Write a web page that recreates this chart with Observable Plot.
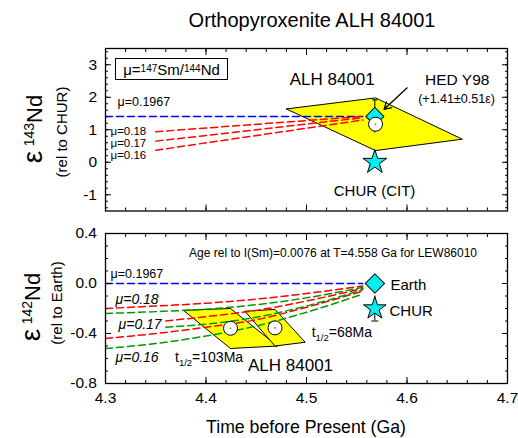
<!DOCTYPE html>
<html>
<head>
<meta charset="utf-8">
<script src="https://cdn.jsdelivr.net/npm/d3@7"></script>
<script src="https://cdn.jsdelivr.net/npm/@observablehq/plot@0.6"></script>
<style>
html,body{margin:0;padding:0;background:#fff;}
#chart{position:relative;width:518px;height:438px;overflow:hidden;font-family:"Liberation Sans",Arial,sans-serif;color:#000;}
#chart svg{position:absolute;left:0;overflow:visible;}
.t{position:absolute;white-space:nowrap;line-height:1;}
.c{transform:translate(-50%,-50%);}
.rot{transform:translate(-50%,-50%) rotate(-90deg);}
sup,sub{line-height:0;}
</style>
</head>
<body>
<div id="chart"></div>
<script>
// ---------------- data ----------------
const timeTicks = [4.3, 4.4, 4.5, 4.6, 4.7];
const nd143Ticks = [-1, 0, 1, 2, 3];
const nd142Ticks = [-0.8, -0.4, 0.0, 0.4];
const muLabels = ["μ=0.1967", "μ=0.18", "μ=0.17", "μ=0.16"];

// Top panel: ε143Nd evolution lines
const t143Earth = [4.30, 4.556];
const e143Earth = [1.41, 1.41];
const t143Mu = [4.35, 4.556];
const e143Mu018 = [0.94, 1.41];
const e143Mu017 = [0.65, 1.37];
const e143Mu016 = [0.37, 1.30];
// ALH 84001 error parallelogram (ε143Nd)
const alhT143 = [4.480, 4.5687, 4.655, 4.5687];
const alhE143 = [1.64, 1.98, 0.71, 0.36];
const alhPoint143 = {t: 4.5687, e: 1.17};
const hed = {t: 4.568, e: 1.41, err: 0.51};
const chur143 = {t: 4.568, e: 0};

// Bottom panel: ε142Nd evolution lines
const t142Earth = [4.30, 4.556];
const e142Earth = [0, 0];
const t142 = [4.30, 4.35, 4.40, 4.45, 4.50, 4.556];
const t142Mu017 = [4.36, 4.40, 4.45, 4.50, 4.556];
const e142Red018 = [-0.20, -0.18, -0.158, -0.125, -0.08, -0.02];
const e142Red017 = [-0.30, -0.265, -0.215, -0.14, -0.04];
const e142Red016 = [-0.44, -0.40, -0.35, -0.29, -0.19, -0.06];
const e142Grn018 = [-0.24, -0.225, -0.205, -0.17, -0.115, -0.03];
const e142Grn017 = [-0.35, -0.325, -0.27, -0.18, -0.05];
const e142Grn016 = [-0.52, -0.48, -0.42, -0.34, -0.23, -0.085];
// ALH 84001 parallelograms (ε142Nd), t1/2 = 103 Ma and 68 Ma
const alhT142a = [4.3776, 4.4244, 4.4712, 4.4244];
const alhE142a = [-0.215, -0.200, -0.500, -0.520];
const alhT142b = [4.4387, 4.4687, 4.4987, 4.4687];
const alhE142b = [-0.222, -0.207, -0.470, -0.500];
const alhPoints142 = [{t: 4.4244, e: -0.358}, {t: 4.4687, e: -0.355}];
const earth142 = {t: 4.568, e: 0};
const chur142 = {t: 4.568, e: -0.20, lo: -0.30, hi: -0.10};

// ---------------- helpers ----------------
const FONT = '"Liberation Sans", Arial, sans-serif';
const YELLOW = "#ffff00", CYAN = "#00f0f0", RED = "#ff0000", GREEN = "#009a00", BLUE = "#0000ff";
const DASH = "7,4";
const rows = (ts, es, key) => ts.map((t, i) => ({t, e: es[i], key}));
const closed = (ts, es) => rows([...ts, ts[0]], [...es, es[0]]);
const blank = () => "";
const capSymbol = {draw(ctx, size) { const w = Math.sqrt(size); ctx.moveTo(-w / 2, 0); ctx.lineTo(w / 2, 0); }};
const timeMinor = d3.range(215, 236).map(i => i / 50);
const nd143Minor = d3.range(-7, 18).map(i => i / 5);
const nd142Minor = d3.range(-8, 5).map(i => i / 10);

function axes(yMajor, yMinor, yFmt, xLabels) {
  return [
    Plot.axisX(timeMinor, {anchor: "bottom", tickSize: -3, tickFormat: blank, label: null}),
    Plot.axisX(timeMinor, {anchor: "top", tickSize: -3, tickFormat: blank, label: null}),
    Plot.axisX(timeTicks, {anchor: "top", tickSize: -6, tickFormat: blank, label: null}),
    Plot.axisX(timeTicks, {anchor: "bottom", tickSize: -6, tickPadding: 14.5, tickFormat: xLabels ? (d => d.toFixed(1)) : blank, label: null, fontSize: 15.5}),
    Plot.axisY(yMinor, {anchor: "left", tickSize: -3, tickFormat: blank, label: null}),
    Plot.axisY(yMinor, {anchor: "right", tickSize: -3, tickFormat: blank, label: null}),
    Plot.axisY(yMajor, {anchor: "left", tickSize: -6, tickPadding: 14.5, tickFormat: yFmt, label: null, fontSize: 15.5}),
    Plot.axisY(yMajor, {anchor: "right", tickSize: -6, tickFormat: blank, label: null}),
    Plot.frame({stroke: "#000", strokeWidth: 1.3})
  ];
}
const style = {fontFamily: FONT, fontSize: "15.5px", fontWeight: "normal", color: "#000", background: "transparent", overflow: "visible"};

// ---------------- top panel ----------------
const topPlot = Plot.plot({
  width: 518, height: 180, marginTop: 8, marginBottom: 9.5, marginLeft: 105, marginRight: 11,
  style,
  x: {domain: [4.3, 4.7]},
  y: {domain: [-1.5, 3.5]},
  marks: [
    Plot.line(closed(alhT143, alhE143), {x: "t", y: "e", fill: YELLOW, stroke: "#000", strokeWidth: 1}),
    Plot.ruleX([hed], {x: "t", y1: d => d.e - d.err, y2: d => d.e + d.err, stroke: "#000", strokeWidth: 1}),
    Plot.dot([hed], {x: "t", y: d => d.e + d.err, symbol: capSymbol, r: 3, stroke: "#000", strokeWidth: 1}),
    Plot.line(rows(t143Earth, e143Earth), {x: "t", y: "e", stroke: BLUE, strokeWidth: 1.5, strokeDasharray: DASH}),
    Plot.line([...rows(t143Mu, e143Mu018, "a"), ...rows(t143Mu, e143Mu017, "b"), ...rows(t143Mu, e143Mu016, "c")],
      {x: "t", y: "e", z: "key", stroke: RED, strokeWidth: 1.5, strokeDasharray: DASH}),
    Plot.dot([hed], {x: "t", y: "e", symbol: "square", rotate: 45, r: 7.2, fill: CYAN, stroke: "#000", strokeWidth: 1}),
    Plot.dot([alhPoint143], {x: "t", y: "e", r: 7, fill: "#fff", stroke: "#000", strokeWidth: 1}),
    Plot.dot([alhPoint143], {x: "t", y: "e", r: 0.8, fill: "#555"}),
    Plot.dot([chur143], {x: "t", y: "e", symbol: "star", r: 7.5, fill: CYAN, stroke: "#000", strokeWidth: 1}),
    Plot.arrow([{x1: 4.6002, y1: 2.29, x2: 4.5772, y2: 1.63}], {x1: "x1", y1: "y1", x2: "x2", y2: "y2", stroke: "#000", strokeWidth: 1.3, headLength: 9}),
    Plot.text(["ALH 84001"], {x: 4.5256, y: 2.545, text: d => d, fontSize: 17, fontWeight: "normal"}),
    Plot.text(["HED Y98"], {x: 4.650, y: 2.545, text: d => d, fontSize: 15.5, fontWeight: "normal"}),
    Plot.text(["(+1.41±0.51ε)"], {x: 4.6493, y: 1.96, text: d => d, fontSize: 12.5, fontWeight: "normal"}),
    Plot.text(["CHUR (CIT)"], {x: 4.5677, y: -0.89, text: d => d, fontSize: 15, fontWeight: "normal"}),
    Plot.text([muLabels[0]], {x: 4.3119, y: 1.84, text: d => d, textAnchor: "start", fontSize: 12.5}),
    Plot.text(muLabels.slice(1), {x: 4.305, y: (d, i) => [0.955, 0.585, 0.215][i], text: d => d, textAnchor: "start", fontSize: 11.5}),
    ...axes(nd143Ticks, nd143Minor, d => String(d), false)
  ]
});

// ---------------- bottom panel ----------------
const botPlot = Plot.plot({
  width: 518, height: 195, marginTop: 13, marginBottom: 32, marginLeft: 105, marginRight: 11,
  style,
  x: {domain: [4.3, 4.7]},
  y: {domain: [-0.8, 0.4]},
  marks: [
    Plot.line(closed(alhT142a, alhE142a), {x: "t", y: "e", fill: YELLOW, stroke: "#000", strokeWidth: 1}),
    Plot.line(closed(alhT142b, alhE142b), {x: "t", y: "e", fill: YELLOW, stroke: "#000", strokeWidth: 1}),
    Plot.line(rows(t142Earth, e142Earth), {x: "t", y: "e", stroke: BLUE, strokeWidth: 1.5, strokeDasharray: DASH}),
    Plot.line([...rows(t142, e142Red018, "a"), ...rows(t142Mu017, e142Red017, "b"), ...rows(t142, e142Red016, "c")],
      {x: "t", y: "e", z: "key", stroke: RED, strokeWidth: 1.5, strokeDasharray: DASH, curve: "monotone-x"}),
    Plot.line([...rows(t142, e142Grn018, "a"), ...rows(t142Mu017, e142Grn017, "b"), ...rows(t142, e142Grn016, "c")],
      {x: "t", y: "e", z: "key", stroke: GREEN, strokeWidth: 1.5, strokeDasharray: DASH, curve: "monotone-x"}),
    Plot.dot(alhPoints142, {x: "t", y: "e", r: 7, fill: "#fff", stroke: "#000", strokeWidth: 1}),
    Plot.dot(alhPoints142, {x: "t", y: "e", r: 0.8, fill: "#555"}),
    Plot.ruleX([chur142], {x: "t", y1: "lo", y2: "hi", stroke: "#000", strokeWidth: 1}),
    Plot.dot([chur142], {x: "t", y: "lo", symbol: capSymbol, r: 4, stroke: "#000", strokeWidth: 1}),
    Plot.dot([earth142], {x: "t", y: "e", symbol: "square", rotate: 45, r: 7.7, fill: CYAN, stroke: "#000", strokeWidth: 1}),
    Plot.dot([chur142], {x: "t", y: "e", symbol: "star", r: 7.1, fill: CYAN, stroke: "#000", strokeWidth: 1}),
    Plot.text(["Age rel to I(Sm)=0.0076 at T=4.558 Ga for LEW86010"], {x: 4.5264, y: 0.242, text: d => d, fontSize: 12}),
    Plot.text([muLabels[0]], {x: 4.305, y: 0.08, text: d => d, textAnchor: "start", fontSize: 12.5}),
    Plot.text(muLabels.slice(1), {x: (d, i) => [4.31, 4.313, 4.31][i], y: (d, i) => [-0.126, -0.326, -0.59][i], text: d => d, textAnchor: "start", fontSize: 14, fontStyle: "italic"}),
    Plot.text(["Earth"], {x: 4.5836, y: -0.014, text: d => d, textAnchor: "start", fontSize: 15}),
    Plot.text(["CHUR"], {x: 4.5826, y: -0.222, text: d => d, textAnchor: "start", fontSize: 15}),
    Plot.text(["ALH 84001"], {x: 4.4841, y: -0.654, text: d => d, fontSize: 17}),
    ...axes(nd142Ticks, nd142Minor, d => d.toFixed(1), true)
  ]
});

// ---------------- assemble ----------------
const chart = document.getElementById("chart");
topPlot.style.top = "40px";
botPlot.style.top = "220px";
chart.append(topPlot, botPlot);

function addHtml(html, css, cls) {
  const d = document.createElement("div");
  d.className = "t " + (cls || "");
  d.style.cssText = css;
  d.innerHTML = html;
  chart.append(d);
}
addHtml("Orthopyroxenite ALH 84001", "left:312px;top:20px;font-size:20px;", "c");
addHtml("Time before Present (Ga)", "left:306px;top:428px;font-size:17.7px;", "c");
addHtml('<span style="font-size:28px">ε</span>&#8201;<sup style="font-size:14px">143</sup>Nd', "left:33px;top:129px;font-size:22px;", "rot");
addHtml("(rel to CHUR)", "left:61px;top:132px;font-size:15px;", "rot");
addHtml('<span style="font-size:28px">ε</span>&#8201;<sup style="font-size:14px">142</sup>Nd', "left:31px;top:307px;font-size:22px;", "rot");
addHtml("(rel to Earth)", "left:56px;top:303px;font-size:15px;", "rot");
addHtml('μ=<sup style="font-size:10px">147</sup>Sm/<sup style="font-size:10px">144</sup>Nd',
  "left:115px;top:58px;width:111px;height:20px;border:1.2px solid #000;font-size:15px;display:flex;align-items:center;justify-content:center;");
addHtml('t<sub style="font-size:9.5px">1/2</sub>=68Ma', "left:311.7px;top:332px;font-size:14px;transform:translateY(-50%);");
addHtml('t<sub style="font-size:9.5px">1/2</sub>=103Ma', "left:175px;top:357px;font-size:14px;transform:translateY(-50%);");
</script>
</body>
</html>
